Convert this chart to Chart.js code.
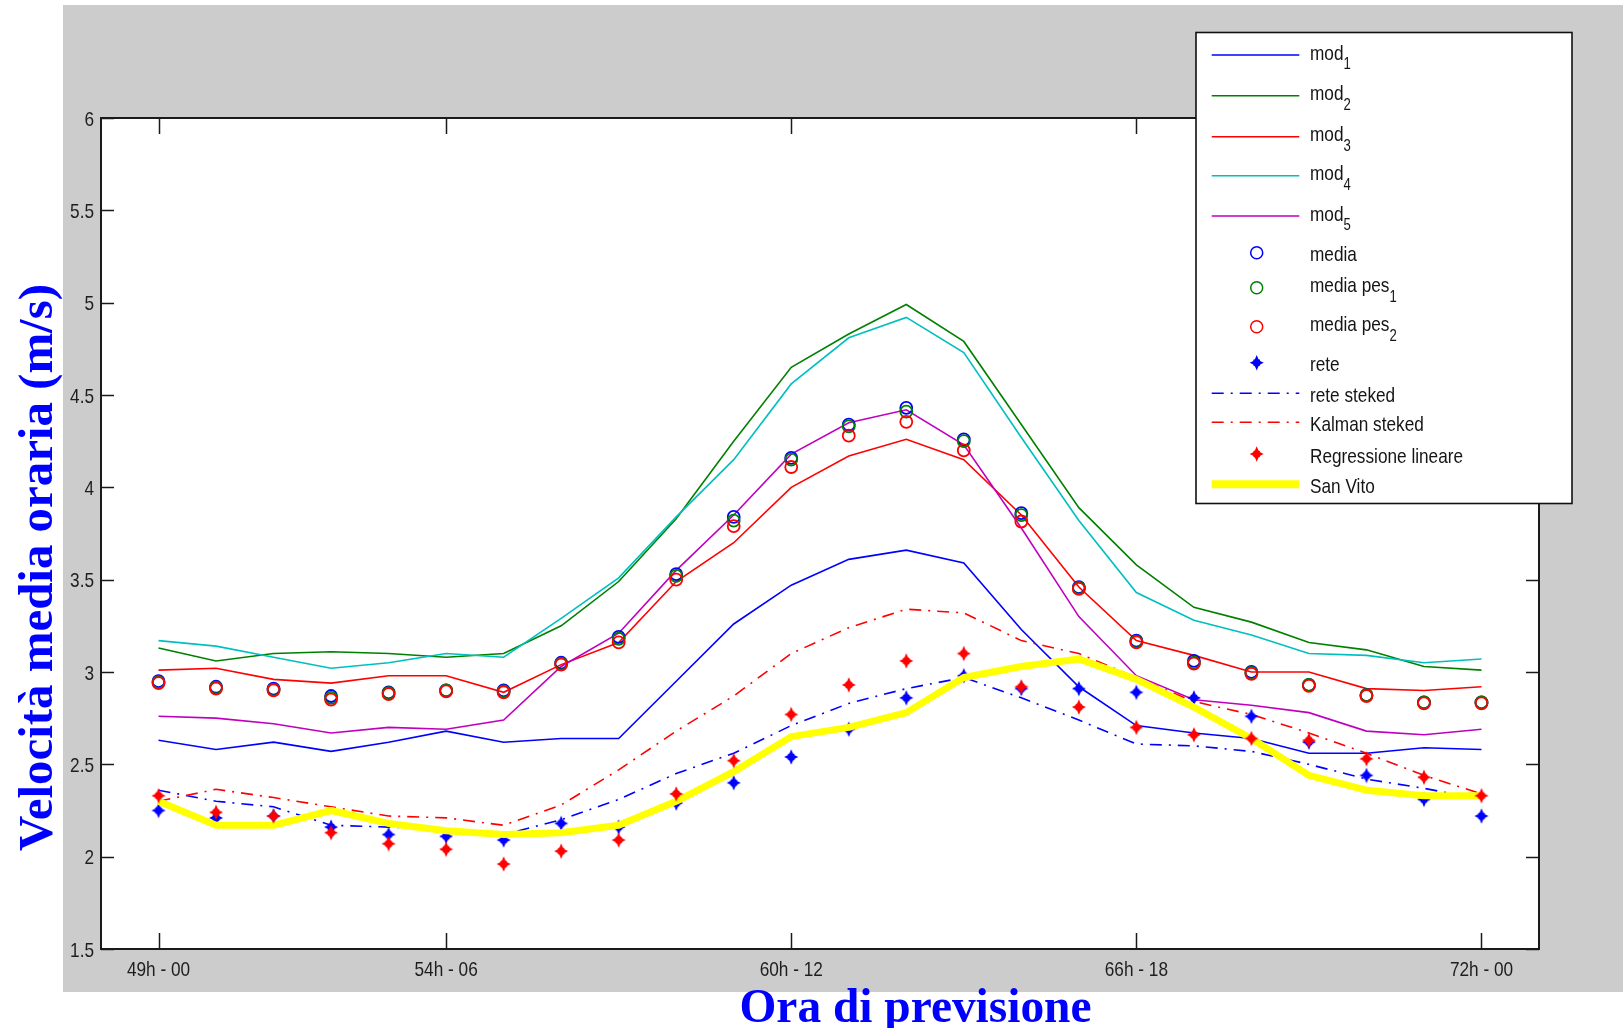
<!DOCTYPE html>
<html>
<head>
<meta charset="utf-8">
<script src="https://cdn.jsdelivr.net/npm/chart.js@4.4.1/dist/chart.umd.min.js"></script>
<style>
html, body { margin: 0; padding: 0; background: #fff; }
#wrap { position: relative; width: 1623px; height: 1028px; overflow: hidden; }
#fondo { position: absolute; left: 63px; top: 5px; width: 1560px; height: 987px; background: #cccccc; }
#grafico { position: absolute; left: 0; top: 0; }
#sovra { position: absolute; left: 0; top: 0; }
</style>
</head>
<body>
<div id="wrap">
  <div id="fondo"></div>
  <canvas id="grafico" width="1623" height="1028"></canvas>
  <svg id="sovra" width="1623" height="1028" xmlns="http://www.w3.org/2000/svg">
    <text x="915.5" y="1021.5" text-anchor="middle" font-family="'Liberation Serif', 'Times New Roman', serif"
          font-weight="bold" font-size="49" fill="#0000ff" textLength="352" lengthAdjust="spacingAndGlyphs">Ora di previsione</text>
    <text transform="translate(51.6,567.5) rotate(-90)" text-anchor="middle" font-family="'Liberation Serif', 'Times New Roman', serif"
          font-weight="bold" font-size="48" fill="#0000ff" textLength="567" lengthAdjust="spacingAndGlyphs">Velocità media oraria (m/s)</text>
    <g id="legenda"></g>
  </svg>
</div>
<script>
// ore di previsione (una per punto, indice 0..23)
const ore = ['49h', '50h', '51h', '52h', '53h', '54h', '55h', '56h', '57h', '58h', '59h', '60h',
             '61h', '62h', '63h', '64h', '65h', '66h', '67h', '68h', '69h', '70h', '71h', '72h'];
const xTickPos = [0, 5, 11, 17, 23];
const xTickLabels = ['49h - 00', '54h - 06', '60h - 12', '66h - 18', '72h - 00'];
const yTickPos = [1.5, 2, 2.5, 3, 3.5, 4, 4.5, 5, 5.5, 6];
const yTickLabels = ['1.5', '2', '2.5', '3', '3.5', '4', '4.5', '5', '5.5', '6'];

// velocità media oraria (m/s)
const mod1 = [2.63, 2.58, 2.62, 2.57, 2.62, 2.68, 2.62, 2.64, 2.64, 2.95, 3.26, 3.47, 3.61, 3.66, 3.59, 3.23, 2.92, 2.71, 2.67, 2.64, 2.56, 2.56, 2.59, 2.58];
const mod2 = [3.13, 3.06, 3.10, 3.11, 3.10, 3.08, 3.10, 3.25, 3.49, 3.83, 4.25, 4.65, 4.83, 4.99, 4.79, 4.34, 3.89, 3.58, 3.35, 3.27, 3.16, 3.12, 3.03, 3.01];
const mod3 = [3.01, 3.02, 2.96, 2.94, 2.98, 2.98, 2.89, 3.04, 3.16, 3.49, 3.70, 4.00, 4.17, 4.26, 4.15, 3.85, 3.46, 3.17, 3.09, 3.00, 3.00, 2.91, 2.90, 2.92];
const mod4 = [3.17, 3.14, 3.08, 3.02, 3.05, 3.10, 3.08, 3.29, 3.51, 3.84, 4.15, 4.56, 4.81, 4.92, 4.73, 4.27, 3.82, 3.43, 3.28, 3.20, 3.10, 3.09, 3.05, 3.07];
const mod5 = [2.76, 2.75, 2.72, 2.67, 2.70, 2.69, 2.74, 3.03, 3.21, 3.55, 3.85, 4.18, 4.35, 4.42, 4.23, 3.78, 3.30, 2.98, 2.85, 2.82, 2.78, 2.68, 2.66, 2.69];
const media = [2.95, 2.92, 2.91, 2.87, 2.89, 2.90, 2.90, 3.05, 3.19, 3.53, 3.84, 4.16, 4.34, 4.43, 4.26, 3.86, 3.46, 3.17, 3.06, 3.00, 2.93, 2.875, 2.835, 2.835];
const mediaPes1 = [2.945, 2.915, 2.905, 2.86, 2.885, 2.90, 2.895, 3.045, 3.18, 3.52, 3.82, 4.15, 4.33, 4.41, 4.25, 3.85, 3.455, 3.165, 3.05, 2.995, 2.93, 2.875, 2.835, 2.835];
const mediaPes2 = [2.94, 2.91, 2.90, 2.85, 2.88, 2.895, 2.89, 3.04, 3.16, 3.50, 3.79, 4.11, 4.28, 4.355, 4.20, 3.815, 3.45, 3.16, 3.045, 2.99, 2.925, 2.87, 2.83, 2.83];
const rete = [2.25, 2.21, 2.22, 2.16, 2.12, 2.11, 2.09, 2.18, 2.16, 2.29, 2.40, 2.54, 2.69, 2.86, 2.98, 2.91, 2.91, 2.89, 2.86, 2.76, 2.62, 2.44, 2.31, 2.22];
const reteSteked = [2.36, 2.30, 2.27, 2.17, 2.16, 2.15, 2.12, 2.20, 2.31, 2.45, 2.56, 2.71, 2.83, 2.91, 2.97, 2.86, 2.74, 2.61, 2.60, 2.57, 2.50, 2.42, 2.37, 2.31];
const kalmanSteked = [2.30, 2.365, 2.32, 2.27, 2.22, 2.21, 2.17, 2.28, 2.47, 2.68, 2.87, 3.10, 3.24, 3.34, 3.32, 3.17, 3.10, 2.97, 2.84, 2.77, 2.67, 2.56, 2.44, 2.34];
const regressione = [2.33, 2.24, 2.22, 2.13, 2.07, 2.04, 1.96, 2.03, 2.09, 2.34, 2.52, 2.77, 2.93, 3.06, 3.10, 2.92, 2.81, 2.70, 2.66, 2.64, 2.63, 2.53, 2.43, 2.33];
const sanVito = [2.30, 2.17, 2.17, 2.25, 2.18, 2.14, 2.12, 2.13, 2.17, 2.30, 2.46, 2.65, 2.70, 2.78, 2.97, 3.03, 3.07, 2.96, 2.81, 2.64, 2.44, 2.36, 2.33, 2.33];

// colori stile matlab
const BLU = '#0000ff', VERDE = '#008000', ROSSO = '#ff0000', CIANO = '#00bfbf', MAGENTA = '#bf00bf', GIALLO = '#ffff00';
const TRATTO_PUNTO = [12, 7, 2, 7];
const FONT_TICK = '21px "Liberation Sans", Arial, sans-serif';
const STRETTO = 0.82; // testo tipo Arial Narrow

// forma della stella (croce spessa a punta)
const STELLA = [[0, -7.8], [1.8, -3.5], [3.1, -3.1], [3.5, -1.8], [7, 0], [3.5, 1.8], [3.1, 3.1], [1.8, 3.5],
                [0, 7.8], [-1.8, 3.5], [-3.1, 3.1], [-3.5, 1.8], [-7, 0], [-3.5, -1.8], [-3.1, -3.1], [-1.8, -3.5]];

function stella(colore) {
    const c = document.createElement('canvas');
    c.width = 18; c.height = 20;
    const g = c.getContext('2d');
    g.fillStyle = colore;
    g.translate(9, 10);
    g.beginPath();
    STELLA.forEach(([px, py], i) => i ? g.lineTo(px, py) : g.moveTo(px, py));
    g.closePath();
    g.fill();
    return c;
}

const punti = (valori) => valori.map((v, i) => ({ x: ore.indexOf(ore[i]), y: v }));

const linea = (label, valori, colore, ordine, extra) => Object.assign({
    label: label, data: punti(valori), borderColor: colore, backgroundColor: colore,
    borderWidth: 1.6, pointRadius: 0, order: ordine
}, extra || {});

const cerchi = (label, valori, colore, ordine) => ({
    label: label, data: punti(valori), showLine: false, pointStyle: 'circle', pointRadius: 6,
    pointBorderWidth: 1.8, pointBorderColor: colore, pointBackgroundColor: 'rgba(0,0,0,0)', order: ordine
});

const stelle = (label, valori, colore, ordine) => ({
    label: label, data: punti(valori), showLine: false, pointStyle: stella(colore), pointRadius: 6, order: ordine
});

// sfondo bianco dell'area del grafico
const areaBianca = {
    id: 'areaBianca',
    beforeDraw(chart) {
        const { ctx, chartArea: a } = chart;
        ctx.save();
        ctx.fillStyle = '#ffffff';
        ctx.fillRect(a.left, a.top, a.right - a.left, a.bottom - a.top);
        ctx.restore();
    }
};

// tacche interne, riquadro ed etichette strette (come matlab)
const tacche = {
    id: 'tacche',
    afterDatasetsDraw(chart) {
        const { ctx, chartArea: a, scales } = chart;
        ctx.save();
        ctx.strokeStyle = '#1a1a1a';
        ctx.lineWidth = 1.5;
        ctx.beginPath();
        scales.x.ticks.forEach(t => {
            const px = Math.round(scales.x.getPixelForValue(t.value)) + 0.5;
            ctx.moveTo(px, a.bottom); ctx.lineTo(px, a.bottom - 16);
            ctx.moveTo(px, a.top); ctx.lineTo(px, a.top + 16);
        });
        scales.y.ticks.forEach(t => {
            const py = Math.round(scales.y.getPixelForValue(t.value)) + 0.5;
            ctx.moveTo(a.left, py); ctx.lineTo(a.left + 13, py);
            ctx.moveTo(a.right, py); ctx.lineTo(a.right - 13, py);
        });
        ctx.stroke();
        ctx.lineWidth = 2;
        ctx.strokeRect(a.left, a.top, a.right - a.left, a.bottom - a.top);

        ctx.font = FONT_TICK;
        ctx.fillStyle = '#1e1e1e';
        ctx.textBaseline = 'alphabetic';
        ctx.textAlign = 'center';
        scales.x.ticks.forEach((t, i) => {
            ctx.save();
            ctx.translate(scales.x.getPixelForValue(t.value), a.bottom + 27);
            ctx.scale(STRETTO, 1);
            ctx.fillText(t.label != null ? t.label : xTickLabels[i], 0, 0);
            ctx.restore();
        });
        ctx.textAlign = 'right';
        scales.y.ticks.forEach((t, i) => {
            ctx.save();
            ctx.translate(a.left - 7, scales.y.getPixelForValue(t.value) + 7.5);
            ctx.scale(STRETTO, 1);
            ctx.fillText(t.label != null ? t.label : yTickLabels[i], 0, 0);
            ctx.restore();
        });
        ctx.restore();
    }
};

new Chart(document.getElementById('grafico').getContext('2d'), {
    type: 'line',
    data: {
        datasets: [
            stelle('Regressione lineare', regressione, ROSSO, 0),
            linea('San Vito', sanVito, GIALLO, 1, { borderWidth: 7, borderCapStyle: 'butt', borderJoinStyle: 'round' }),
            stelle('rete', rete, BLU, 2),
            cerchi('media pes2', mediaPes2, ROSSO, 3),
            cerchi('media pes1', mediaPes1, VERDE, 4),
            cerchi('media', media, BLU, 5),
            linea('Kalman steked', kalmanSteked, ROSSO, 6, { borderDash: TRATTO_PUNTO }),
            linea('rete steked', reteSteked, BLU, 7, { borderDash: TRATTO_PUNTO }),
            linea('mod5', mod5, MAGENTA, 8),
            linea('mod4', mod4, CIANO, 9),
            linea('mod3', mod3, ROSSO, 10),
            linea('mod2', mod2, VERDE, 11),
            linea('mod1', mod1, BLU, 12)
        ]
    },
    options: {
        responsive: false,
        animation: false,
        devicePixelRatio: 1,
        layout: { padding: { left: 0, top: 118, right: 84, bottom: 0 } },
        plugins: { legend: { display: false }, tooltip: { enabled: false } },
        elements: { line: { tension: 0 } },
        scales: {
            x: {
                type: 'linear', min: -1, max: 24,
                afterFit: (s) => { s.height = 79; },
                afterBuildTicks: (s) => { s.ticks = xTickPos.map(v => ({ value: v })); },
                grid: { display: false, drawTicks: false },
                border: { display: false },
                ticks: { display: false, callback: (v, i) => xTickLabels[i], autoSkip: false }
            },
            y: {
                type: 'linear', min: 1.5, max: 6,
                afterFit: (s) => { s.width = 101; },
                afterBuildTicks: (s) => { s.ticks = yTickPos.map(v => ({ value: v })); },
                grid: { display: false, drawTicks: false },
                border: { display: false },
                ticks: { display: false, callback: (v, i) => yTickLabels[i], autoSkip: false }
            }
        }
    },
    plugins: [areaBianca, tacche]
});

// legenda (svg sopra il grafico)
const legendaNomi = ['mod', 'mod', 'mod', 'mod', 'mod', 'media', 'media pes', 'media pes', 'rete', 'rete steked', 'Kalman steked', 'Regressione lineare', 'San Vito'];
const legendaPedici = ['1', '2', '3', '4', '5', '', '1', '2', '', '', '', '', ''];
const legendaTipo = ['linea', 'linea', 'linea', 'linea', 'linea', 'cerchio', 'cerchio', 'cerchio', 'stella', 'trattopunto', 'trattopunto', 'stella', 'spessa'];
const legendaColori = [BLU, VERDE, ROSSO, CIANO, MAGENTA, BLU, VERDE, ROSSO, BLU, BLU, ROSSO, ROSSO, GIALLO];
const legendaY = [55, 95.7, 136.7, 175.7, 216, 252.7, 287.7, 326.7, 362.7, 393.3, 422.3, 454, 484.3];

const NS = 'http://www.w3.org/2000/svg';
const gLeg = document.getElementById('legenda');
function el(tag, attrs, parent) {
    const e = document.createElementNS(NS, tag);
    for (const k in attrs) e.setAttribute(k, attrs[k]);
    (parent || gLeg).appendChild(e);
    return e;
}
el('rect', { x: 1196, y: 32.5, width: 376, height: 471, fill: '#fff', stroke: '#111', 'stroke-width': 1.6 });
legendaNomi.forEach((nome, i) => {
    const y = legendaY[i], col = legendaColori[i], tipo = legendaTipo[i];
    if (tipo === 'linea' || tipo === 'trattopunto' || tipo === 'spessa') {
        const a = { x1: 1211.7, x2: 1299.3, y1: y, y2: y, stroke: col, 'stroke-width': tipo === 'spessa' ? 8 : 1.5 };
        if (tipo === 'trattopunto') a['stroke-dasharray'] = TRATTO_PUNTO.join(' ');
        el('line', a);
    } else if (tipo === 'cerchio') {
        el('circle', { cx: 1256.7, cy: y, r: 6, fill: 'none', stroke: col, 'stroke-width': 1.5 });
    } else {
        el('path', { d: 'M' + STELLA.map(p => p.join(',')).join(' L') + ' Z', fill: col,
                     transform: 'translate(1256.7,' + y + ')' });
    }
    const sub = legendaPedici[i];
    const t = el('text', { x: 0, y: 0, 'font-family': "'Liberation Sans', Arial, sans-serif", 'font-size': 21, fill: '#151515',
                           transform: 'translate(1310,' + (y + (sub ? 4.5 : 8.5)) + ') scale(' + STRETTO + ',1)' });
    t.appendChild(document.createTextNode(nome));
    if (sub) {
        const ts = el('tspan', { 'font-size': 16, dy: 9.3 }, t);
        ts.textContent = sub;
    }
});
</script>
</body>
</html>
